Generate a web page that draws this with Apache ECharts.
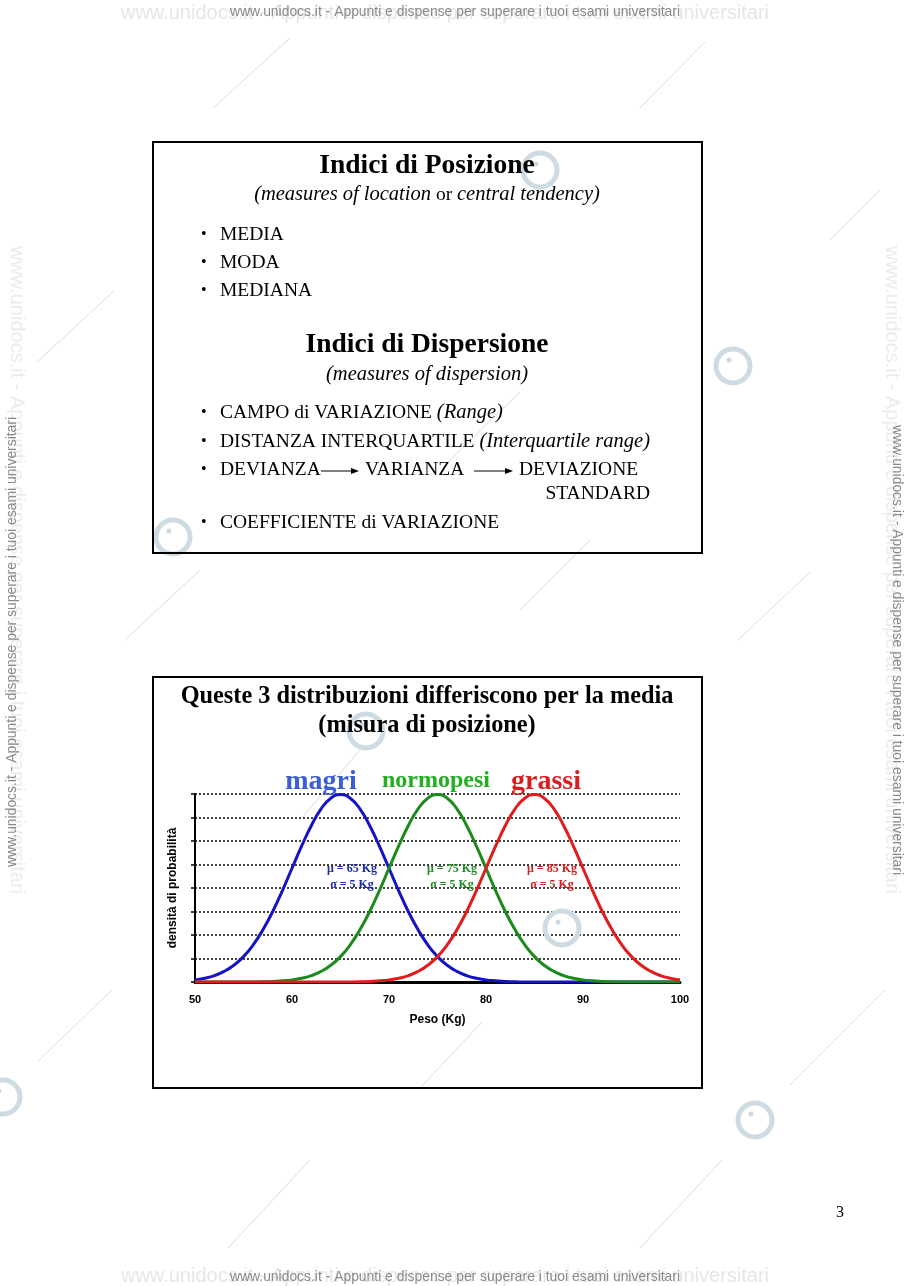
<!DOCTYPE html>
<html>
<head>
<meta charset="utf-8">
<script src="https://cdn.jsdelivr.net/npm/echarts@6/dist/echarts.min.js"></script>
<style>
  html, body { margin: 0; padding: 0; background: #fff; }
  #page { width: 909px; height: 1286px; }
</style>
</head>
<body>
<div id="page"></div>
<script>
// peso in Kg (asse x)
var pesoKg = [50, 51, 52, 53, 54, 55, 56, 57, 58, 59, 60, 61, 62, 63, 64, 65, 66, 67, 68, 69, 70,
  71, 72, 73, 74, 75, 76, 77, 78, 79, 80, 81, 82, 83, 84, 85, 86, 87, 88, 89, 90,
  91, 92, 93, 94, 95, 96, 97, 98, 99, 100];

// densità
var magri = [0.0009, 0.0016, 0.0027, 0.0045, 0.0071, 0.0108, 0.0158, 0.0222, 0.0299, 0.0388, 0.0484,
  0.0579, 0.0666, 0.0737, 0.0782, 0.0798, 0.0782, 0.0737, 0.0666, 0.0579, 0.0484,
  0.0388, 0.0299, 0.0222, 0.0158, 0.0108, 0.0071, 0.0045, 0.0027, 0.0016, 0.0009,
  0.0005, 0.0002, 0.0001, 0, 0, 0, 0, 0, 0, 0, 0, 0, 0, 0, 0, 0, 0, 0, 0, 0];
var normopesi = [0, 0, 0, 0, 0, 0, 0, 0.0001, 0.0002, 0.0005, 0.0009,
  0.0016, 0.0027, 0.0045, 0.0071, 0.0108, 0.0158, 0.0222, 0.0299, 0.0388, 0.0484,
  0.0579, 0.0666, 0.0737, 0.0782, 0.0798, 0.0782, 0.0737, 0.0666, 0.0579, 0.0484,
  0.0388, 0.0299, 0.0222, 0.0158, 0.0108, 0.0071, 0.0045, 0.0027, 0.0016, 0.0009,
  0.0005, 0.0002, 0.0001, 0, 0, 0, 0, 0, 0, 0];
var grassi = [0, 0, 0, 0, 0, 0, 0, 0, 0, 0, 0,
  0, 0, 0, 0, 0, 0, 0.0001, 0.0002, 0.0005, 0.0009,
  0.0016, 0.0027, 0.0045, 0.0071, 0.0108, 0.0158, 0.0222, 0.0299, 0.0388, 0.0484,
  0.0579, 0.0666, 0.0737, 0.0782, 0.0798, 0.0782, 0.0737, 0.0666, 0.0579, 0.0484,
  0.0388, 0.0299, 0.0222, 0.0158, 0.0108, 0.0071, 0.0045, 0.0027, 0.0016, 0.0009];

var serieNomi = ['magri', 'normopesi', 'grassi'];
var parametri = [['\u03bc = 65 Kg', '\u03c3 = 5 Kg'], ['\u03bc = 75 Kg', '\u03c3 = 5 Kg'], ['\u03bc = 85 Kg', '\u03c3 = 5 Kg']];
var xTicks = [50, 60, 70, 80, 90, 100];

var serif = "'Liberation Serif', 'DejaVu Serif', serif";
var sans = "'Liberation Sans', Arial, sans-serif";
var wmText = 'www.unidocs.it - Appunti e dispense per superare i tuoi esami universitari';

function pairs(vals) {
  var out = [];
  for (var i = 0; i < pesoKg.length; i++) out.push([pesoKg[i], vals[i]]);
  return out;
}

function txt(x, y, text, font, opts) {
  opts = opts || {};
  return {
    type: 'text', x: x, y: y, rotation: opts.rotation || 0, z: opts.z || 10, silent: true,
    style: {
      text: text, font: font, fill: opts.fill || '#000',
      align: opts.align || 'left', verticalAlign: 'middle', rich: opts.rich
    }
  };
}

var body = '19.5px ' + serif;
var it = { font: 'italic 20.5px ' + serif, fill: '#000' };
var rm = { font: body, fill: '#000' };

function bullet(y, text, rich) {
  return [
    txt(201, y, '\u2022', '16px ' + serif),
    txt(220, y, text, body, { rich: rich })
  ];
}

function arrow(x1, x2, y) {
  return [
    { type: 'line', shape: { x1: x1, y1: y, x2: x2 - 6, y2: y }, style: { stroke: '#000', lineWidth: 1 }, z: 10 },
    { type: 'polygon', shape: { points: [[x2, y], [x2 - 8, y - 3], [x2 - 8, y + 3]] }, style: { fill: '#000' }, z: 10 }
  ];
}

var elements = [];

// --- watermark in background ---
var diag = [[213, 108, 290, 38], [640, 108, 705, 42], [37, 362, 115, 290], [448, 462, 520, 392],
  [37, 1062, 112, 990], [420, 1088, 482, 1022], [790, 1085, 885, 990], [640, 1248, 722, 1160],
  [228, 1248, 310, 1160], [738, 640, 810, 572], [520, 610, 590, 540], [300, 820, 360, 750],
  [125, 640, 200, 570], [830, 240, 880, 190]];
diag.forEach(function (d) {
  elements.push({ type: 'line', shape: { x1: d[0], y1: d[1], x2: d[2], y2: d[3] }, style: { stroke: '#dcdcdc', lineWidth: 1 }, z: 1, silent: true });
});
var icons = [[540, 170], [733, 366], [173, 537], [366, 731], [562, 928], [755, 1120], [3, 1097]];
icons.forEach(function (c) {
  elements.push({ type: 'circle', shape: { cx: c[0], cy: c[1], r: 17 }, style: { stroke: '#cfdbe2', lineWidth: 5, fill: null }, z: 1, silent: true });
  elements.push({ type: 'circle', shape: { cx: c[0] - 4, cy: c[1] - 6, r: 2.5 }, style: { fill: '#cfdbe2' }, z: 1, silent: true });
});
elements.push(txt(445, 13, wmText, '20px ' + sans, { fill: '#e6e6e6', align: 'center', z: 1 }));
elements.push(txt(455, 12, wmText, '13.9px ' + sans, { fill: '#8a8a8a', align: 'center', z: 2 }));
elements.push(txt(445, 1276, wmText, '20px ' + sans, { fill: '#e6e6e6', align: 'center', z: 1 }));
elements.push(txt(455, 1277, wmText, '13.9px ' + sans, { fill: '#8a8a8a', align: 'center', z: 2 }));
elements.push(txt(17, 570, wmText, '20px ' + sans, { fill: '#ececec', align: 'center', rotation: -Math.PI / 2, z: 1 }));
elements.push(txt(12, 642, wmText, '13.9px ' + sans, { fill: '#8a8a8a', align: 'center', rotation: Math.PI / 2, z: 2 }));
elements.push(txt(892, 570, wmText, '20px ' + sans, { fill: '#ececec', align: 'center', rotation: -Math.PI / 2, z: 1 }));
elements.push(txt(897, 650, wmText, '13.9px ' + sans, { fill: '#8a8a8a', align: 'center', rotation: -Math.PI / 2, z: 2 }));

// --- box superiore ---
elements.push({ type: 'rect', shape: { x: 153, y: 142, width: 549, height: 411 }, style: { fill: null, stroke: '#000', lineWidth: 2 }, z: 5 });
elements.push(txt(427, 166, 'Indici di Posizione', 'bold 27.5px ' + serif, { align: 'center' }));
elements.push(txt(427, 195, '{i|(measures of location} {r|or} {i|central tendency)}', body, { align: 'center', rich: { i: it, r: rm } }));
elements = elements.concat(bullet(235, 'MEDIA'), bullet(263, 'MODA'), bullet(291, 'MEDIANA'));
elements.push(txt(427, 345, 'Indici di Dispersione', 'bold 27.5px ' + serif, { align: 'center' }));
elements.push(txt(427, 375, '{i|(measures of dispersion)}', body, { align: 'center', rich: { i: it } }));
elements = elements.concat(
  bullet(413, '{r|CAMPO di VARIAZIONE} {i|(Range)}', { i: it, r: rm }),
  bullet(442, '{r|DISTANZA INTERQUARTILE} {i|(Interquartile range)}', { i: it, r: rm }),
  bullet(470, 'DEVIANZA'),
  bullet(523, 'COEFFICIENTE di VARIAZIONE')
);
elements.push(txt(365, 470, 'VARIANZA', body));
elements.push(txt(519, 470, 'DEVIAZIONE', body));
elements.push(txt(650, 494, 'STANDARD', body, { align: 'right' }));
elements = elements.concat(arrow(321, 359, 471), arrow(474, 513, 471));

// --- box inferiore ---
elements.push({ type: 'rect', shape: { x: 153, y: 677, width: 549, height: 411 }, style: { fill: null, stroke: '#000', lineWidth: 2 }, z: 5 });
elements.push(txt(427, 697, 'Queste 3 distribuzioni differiscono per la media', 'bold 24.3px ' + serif, { align: 'center' }));
elements.push(txt(427, 726, '(misura di posizione)', 'bold 24.3px ' + serif, { align: 'center' }));
elements.push(txt(321, 782, serieNomi[0], 'bold 28px ' + serif, { align: 'center', fill: '#3b5fd2' }));
elements.push(txt(436, 781, serieNomi[1], 'bold 24px ' + serif, { align: 'center', fill: '#22b022' }));
elements.push(txt(546, 782, serieNomi[2], 'bold 28px ' + serif, { align: 'center', fill: '#d81e1e' }));
var parCol = ['#1a2aa8', '#238a23', '#d42020'];
var parX = [352, 452, 552];
for (var k = 0; k < 3; k++) {
  elements.push(txt(parX[k], 869, parametri[k][0], 'bold 12px ' + serif, { align: 'center', fill: parCol[k], z: 20 }));
  elements.push(txt(parX[k], 885, parametri[k][1], 'bold 12px ' + serif, { align: 'center', fill: parCol[k], z: 20 }));
}
elements.push(txt(836, 1213, '3', '16px ' + serif));

var chart = echarts.init(document.getElementById('page'));
chart.setOption({
  backgroundColor: '#fff',
  animation: false,
  grid: { left: 195, right: 229, top: 794, bottom: 304 },
  xAxis: {
    type: 'value', min: 50, max: 100, interval: 10,
    name: 'Peso (Kg)', nameLocation: 'middle', nameGap: 32,
    nameTextStyle: { fontFamily: sans, fontWeight: 'bold', fontSize: 12, color: '#000' },
    axisLine: { show: true, lineStyle: { color: '#000', width: 3 } },
    axisTick: { show: false },
    splitLine: { show: false },
    axisLabel: { margin: 12, color: '#000', fontFamily: sans, fontWeight: 'bold', fontSize: 11,
      formatter: function (v) { return xTicks.indexOf(v) >= 0 ? v : ''; } }
  },
  yAxis: {
    type: 'value', min: 0, max: 0.08, interval: 0.01,
    name: 'densità di probabilità', nameLocation: 'middle', nameGap: 16, nameRotate: 90,
    nameTextStyle: { fontFamily: sans, fontWeight: 'bold', fontSize: 12, color: '#000' },
    axisLine: { show: true, lineStyle: { color: '#000', width: 2 } },
    axisTick: { show: true, length: 4, lineStyle: { color: '#000', width: 1.5 } },
    axisLabel: { show: false },
    splitLine: { show: true, lineStyle: { color: '#000', width: 1.5, type: [2, 2] } }
  },
  series: [
    { name: serieNomi[0], type: 'line', smooth: true, symbol: 'none', data: pairs(magri), lineStyle: { color: '#1414c4', width: 3 }, z: 3 },
    { name: serieNomi[1], type: 'line', smooth: true, symbol: 'none', data: pairs(normopesi), lineStyle: { color: '#1c8a1c', width: 3 }, z: 4 },
    { name: serieNomi[2], type: 'line', smooth: true, symbol: 'none', data: pairs(grassi), lineStyle: { color: '#e01c1c', width: 3 }, z: 5 }
  ],
  graphic: { elements: elements }
});
</script>
</body>
</html>
